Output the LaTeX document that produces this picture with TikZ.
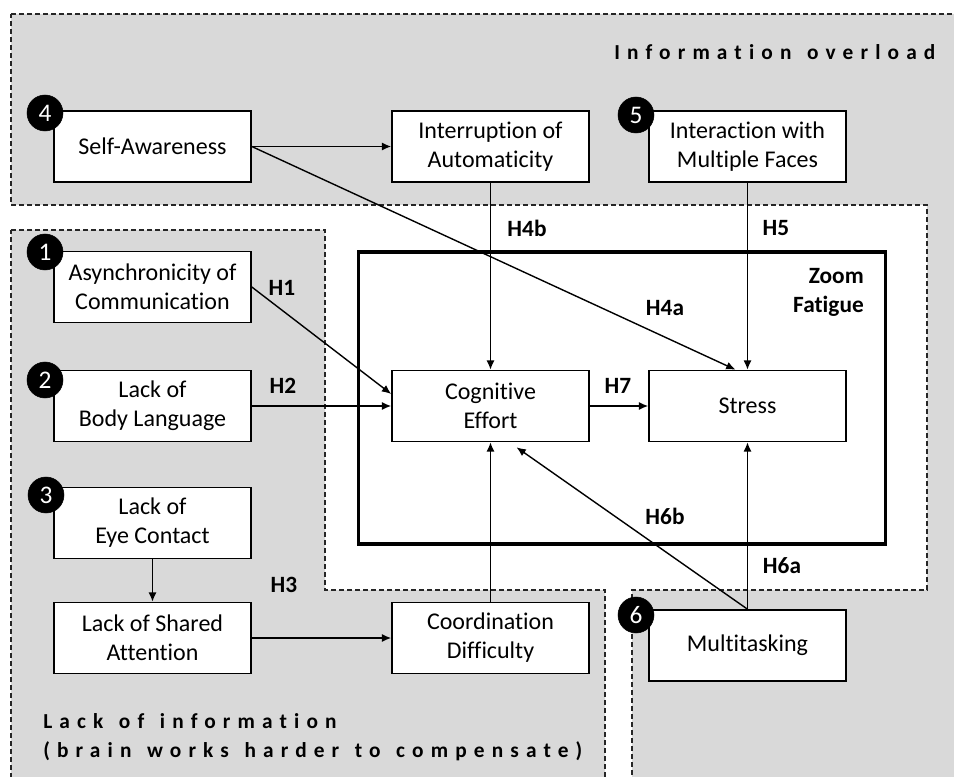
\documentclass[tikz,border=0pt]{standalone}
\usepackage{fontspec}
\setmainfont[Ligatures={NoCommon}]{Carlito}
\newfontfamily\spacedfont[LetterSpace=33.5,Ligatures={NoCommon},WordSpace=1.3]{Carlito}
\usetikzlibrary{arrows.meta,calc}
\definecolor{regiongray}{HTML}{D9D9D9}
\tikzset{
  region/.style={fill=regiongray, draw=black!85, line width=0.9pt, dash pattern=on 3.4pt off 2.6pt},
  box/.style={draw=black, fill=white, line width=1.2pt, minimum width=147.75pt, minimum height=53.25pt,
    inner sep=0pt, align=center, font=\fontsize{18}{21.75}\selectfont},
  numc/.style={circle, fill=black, draw=black, minimum size=27pt, inner sep=0pt, text=white,
    font=\fontsize{19}{19}\selectfont},
  hl/.style={font=\fontsize{17.5}{21.75}\selectfont\bfseries, inner sep=0pt},
  arr/.style={line width=1.05pt, -{Latex[length=7pt,width=6pt]}},
  grouptitle/.style={font=\fontsize{16}{16}\selectfont\spacedfont\bfseries, inner sep=0pt, anchor=west},
}
\begin{document}
\begin{tikzpicture}[x=0.75pt, y=-0.75pt]
\useasboundingbox (0,0) rectangle (954,777);
\clip (0,0) rectangle (954,777);
\fill[white] (0,0) rectangle (954,777);

% regions
\draw[region] (11,14) -- (970,14) -- (970,790) -- (632,790) -- (632,590) -- (927,590) -- (927,205) -- (11,205) -- cycle;
\draw[region] (11,230) -- (325,230) -- (325,590) -- (605,590) -- (605,790) -- (11,790) -- cycle;

% Zoom fatigue frame
\node[draw=black, line width=2.6pt, minimum width=395.25pt, minimum height=219pt, inner sep=0pt] (zfbox) at (622,398) {};
\node[hl, align=right, anchor=east] (zf) at (864,292.5) {Zoom\\Fatigue};

% titles
\node[grouptitle] (tio) at (614,52) {Information overload};
\node[grouptitle] (tli) at (43,721) {Lack of information};
\node[grouptitle] (tbr) at (43,751) {(brain works harder to compensate)};

% boxes
\node[box] (sa) at (152.5,146.5) {Self-Awareness};
\node[box] (ia) at (490.5,146.5) {Interruption of\\Automaticity};
\node[box] (im) at (747.5,146.5) {Interaction with\\Multiple Faces};
\node[box] (ac) at (152.5,287) {Asynchronicity of\\Communication};
\node[box] (bl) at (152.5,406) {Lack of\\Body Language};
\node[box] (ec) at (152.5,523) {Lack of\\Eye Contact};
\node[box] (sh) at (152.5,638) {Lack of Shared\\Attention};
\node[box] (cd) at (490.5,638) {Coordination\\Difficulty};
\node[box] (ce) at (490.5,406) {Cognitive\\Effort};
\node[box] (st) at (747.5,406) {Stress};
\node[box] (mt) at (747.5,645.5) {Multitasking};

% number circles
\node[numc] (n4) at (45,113) {4};
\node[numc] (n5) at (636,115) {5};
\node[numc] (n1) at (45,252) {1};
\node[numc] (n2) at (45,380) {2};
\node[numc] (n3) at (46,495) {3};
\node[numc] (n6) at (636,615) {6};

% connectors
\draw[arr] (sa.east) -- (ia.west);
\draw[arr] (sa.east) -- ($(st.north)+(-12,0)$);
\draw[arr] (ia.south) -- (ce.north);
\draw[arr] (im.south) -- (st.north);
\draw[arr] (ac.east) -- ($(ce.west)+(0,-12)$);
\draw[arr] (bl.east) -- (ce.west);
\draw[arr] (ce.east) -- (st.west);
\draw[arr] (ec.south) -- (sh.north);
\draw[arr] (sh.east) -- (cd.west);
\draw[arr] (cd.north) -- (ce.south);
\draw[arr] (mt.north) -- (st.south);
\draw[arr] (mt.north) -- ($(ce.south)+(26,5)$);

% hypothesis labels
\node[hl] (h1) at (282,288) {H1};
\node[hl] (h2) at (283,386) {H2};
\node[hl] (h3) at (284,585) {H3};
\node[hl] (h4a) at (665,308) {H4a};
\node[hl] (h4b) at (527,228) {H4b};
\node[hl] (h5) at (776,228) {H5};
\node[hl] (h6a) at (782,566) {H6a};
\node[hl] (h6b) at (665,516) {H6b};
\node[hl] (h7) at (618,386) {H7};
\end{tikzpicture}
\end{document}
